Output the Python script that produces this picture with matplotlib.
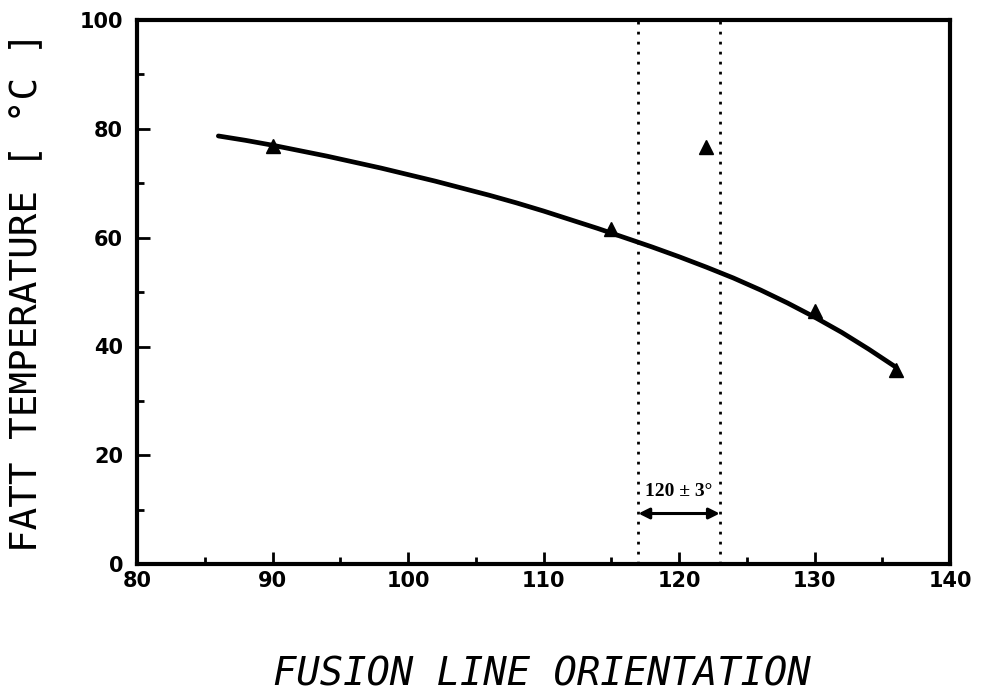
import matplotlib
matplotlib.use('Agg')
import matplotlib.pyplot as plt
from matplotlib.ticker import MultipleLocator

# measured points (triangles)
orient = [90, 115, 122, 130, 136]
fatt = [76.8, 61.6, 76.6, 46.6, 35.6]

# fitted curve
curve_x = [86, 88, 90, 92, 94, 96, 98, 100, 102, 104, 106, 108, 110, 112,
           114, 116, 118, 120, 122, 124, 126, 128, 130, 132, 134, 136]
curve_y = [78.7, 77.9, 77.0, 76.0, 75.0, 73.9, 72.8, 71.6, 70.4, 69.1, 67.8,
           66.4, 64.9, 63.3, 61.7, 60.0, 58.3, 56.5, 54.6, 52.6, 50.4, 48.0,
           45.4, 42.6, 39.5, 36.2]

band = [117, 123]
band_label = '120 ± 3°'

fig = plt.figure(figsize=(9.81, 6.93), dpi=100)
ax = fig.add_axes([0.1397, 0.186, 0.8288, 0.785])

ax.plot(curve_x, curve_y, color='black', lw=3.4, solid_capstyle='round')
ax.plot(orient, fatt, '^', color='black', ms=10)

for b in band:
    ax.axvline(b, color='black', lw=2, ls=(0, (1, 2.6)))

ax.annotate('', xy=(band[0], 9.3), xytext=(band[1], 9.3),
            arrowprops=dict(arrowstyle='<|-|>', color='black', lw=2.2,
                            mutation_scale=16, shrinkA=0, shrinkB=0))
ax.text(sum(band) / 2, 13.4, band_label, ha='center', va='center',
        fontsize=14, fontweight='bold', family='Liberation Serif')

ax.set_xlim(80, 140)
ax.set_ylim(0, 100)
ax.xaxis.set_major_locator(MultipleLocator(10))
ax.xaxis.set_minor_locator(MultipleLocator(5))
ax.yaxis.set_major_locator(MultipleLocator(20))
ax.yaxis.set_minor_locator(MultipleLocator(10))
ax.tick_params(which='both', direction='in', top=False, right=False, width=2)
ax.tick_params(which='major', length=9, labelsize=15)
ax.tick_params(which='minor', length=5)
ax.tick_params(axis='x', pad=5)
ax.tick_params(axis='y', pad=10)
for lab in ax.get_xticklabels() + ax.get_yticklabels():
    lab.set_fontweight('bold')
for s in ax.spines.values():
    s.set_linewidth(3)

ax.set_xlabel('FUSION LINE ORIENTATION', fontsize=28, style='italic',
              family='DejaVu Sans Mono')
ax.xaxis.set_label_coords(0.4975, -0.168)
ax.set_ylabel('FATT TEMPERATURE [ °C ]', fontsize=27, family='DejaVu Sans Mono')
ax.yaxis.set_label_coords(-0.114, 0.5)

fig.savefig('out.png', dpi=100)
